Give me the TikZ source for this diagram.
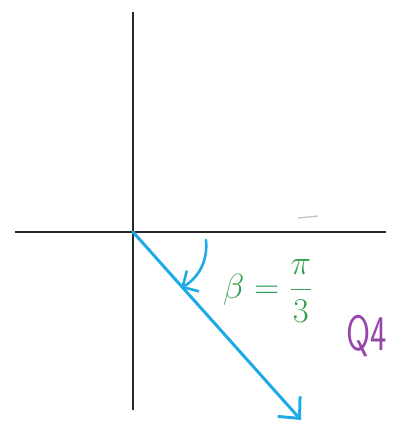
\documentclass[tikz,border=0pt]{standalone}
\usepackage{amsmath}
\usetikzlibrary{arrows.meta}
\definecolor{axisgray}{RGB}{40,40,40}
\definecolor{vecblue}{RGB}{30,170,230}
\definecolor{anggreen}{RGB}{50,160,80}
\definecolor{quadpurple}{RGB}{150,70,170}
\tikzset{
  axisline/.style={draw=axisgray, line width=2.4pt},
  vecline/.style={draw=vecblue, line width=3pt, line cap=round},
  lbl/.style={inner sep=0pt}
}
\begin{document}
\begin{tikzpicture}[x=1pt,y=-1pt]
\useasboundingbox (0,0) rectangle (409,428);
\coordinate (top) at (133,12);
\coordinate (bot) at (133,410);
\coordinate (left) at (15,232);
\coordinate (right) at (386,232);
\coordinate (O) at (133,232);
\coordinate (tip) at (301,420);
\coordinate (arcS) at (206,240);
\coordinate (arcE) at (181,288);
\coordinate (mA) at (298,218);
\coordinate (mB) at (318,216);
\draw[axisline] (top) -- (bot);
\draw[axisline] (left) -- (right);
\draw[draw=black!25, line width=1.2pt] (mA) -- (mB);
\draw[vecline, -{Straight Barb[length=16pt,width=30pt,line width=3pt]}] (O) -- (tip);
\draw[vecline, line width=2.6pt, -{Straight Barb[length=12pt,width=24pt,line width=2.6pt]}] (arcS) .. controls (208,262) and (198,278) .. (arcE);
\node[lbl, text=anggreen, font=\Huge, anchor=center, scale=1.4] (beta) at (268,291) {$\beta=\dfrac{\pi}{3}$};
\node[lbl, text=quadpurple, font=\Huge\sffamily, anchor=center, xscale=1.4, yscale=2] (q4) at (367,336) {Q4};
\end{tikzpicture}
\end{document}
